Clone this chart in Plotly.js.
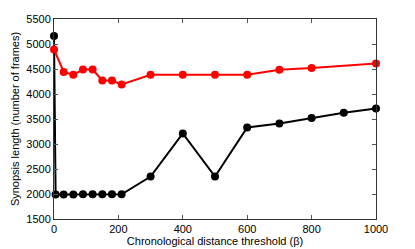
<!DOCTYPE html>
<html><head><meta charset="utf-8">
<script src="https://cdn.plot.ly/plotly-3.0.1.min.js"></script>
<style>html,body{margin:0;padding:0;background:#fff;}#chart{width:415px;height:249px;}</style>
</head><body><div id="chart"></div>
<script>
const blackX = [0, 5, 30, 60, 90, 120, 150, 180, 210, 300, 400, 500, 600, 700, 800, 900, 1000];
const blackY = [5160, 1990, 1990, 1990, 1995, 1995, 1995, 1995, 1995, 2350, 3210, 2350, 3330, 3410, 3520, 3625, 3710];
const redX = [0, 30, 60, 90, 120, 150, 180, 210, 300, 400, 500, 600, 700, 800, 1000];
const redY = [4890, 4440, 4385, 4490, 4490, 4270, 4270, 4190, 4385, 4385, 4385, 4385, 4485, 4520, 4610];
const xTicks = [0, 200, 400, 600, 800, 1000];
const yTicks = [1500, 2000, 2500, 3000, 3500, 4000, 4500, 5000, 5500];
const xTitle = 'Chronological distance threshold (β)';
const yTitle = 'Synopsis length (number of frames)';

const traces = [
  {x: blackX, y: blackY, mode: 'lines+markers', line: {color: '#000', width: 2}, marker: {color: '#000', size: 8}, cliponaxis: false},
  {x: redX, y: redY, mode: 'lines+markers', line: {color: '#ff0000', width: 2}, marker: {color: '#ff0000', size: 8}, cliponaxis: false}
];
const axisCommon = {
  showgrid: false, zeroline: false, showline: true, linecolor: '#333', linewidth: 1,
  mirror: 'ticks', ticks: 'inside', ticklen: 4, tickcolor: '#555',
  tickfont: {family: 'Liberation Sans, Arial, sans-serif', size: 11, color: '#000'}
};
const layout = {
  width: 415, height: 249,
  margin: {l: 54, r: 39, t: 19, b: 30},
  paper_bgcolor: '#fff', plot_bgcolor: '#fff',
  showlegend: false,
  xaxis: Object.assign({}, axisCommon, {range: [0, 1000], tickvals: xTicks, ticktext: xTicks.map(String),
    title: {text: xTitle, font: {family: 'Liberation Sans, Arial, sans-serif', size: 11, color: '#000'}, standoff: 2}}),
  yaxis: Object.assign({}, axisCommon, {range: [1500, 5500], tickvals: yTicks, ticktext: yTicks.map(String),
    title: {text: yTitle, font: {family: 'Liberation Sans, Arial, sans-serif', size: 11, color: '#000'}, standoff: 4}})
};
Plotly.newPlot('chart', traces, layout, {displayModeBar: false, staticPlot: true});
</script></body></html>
